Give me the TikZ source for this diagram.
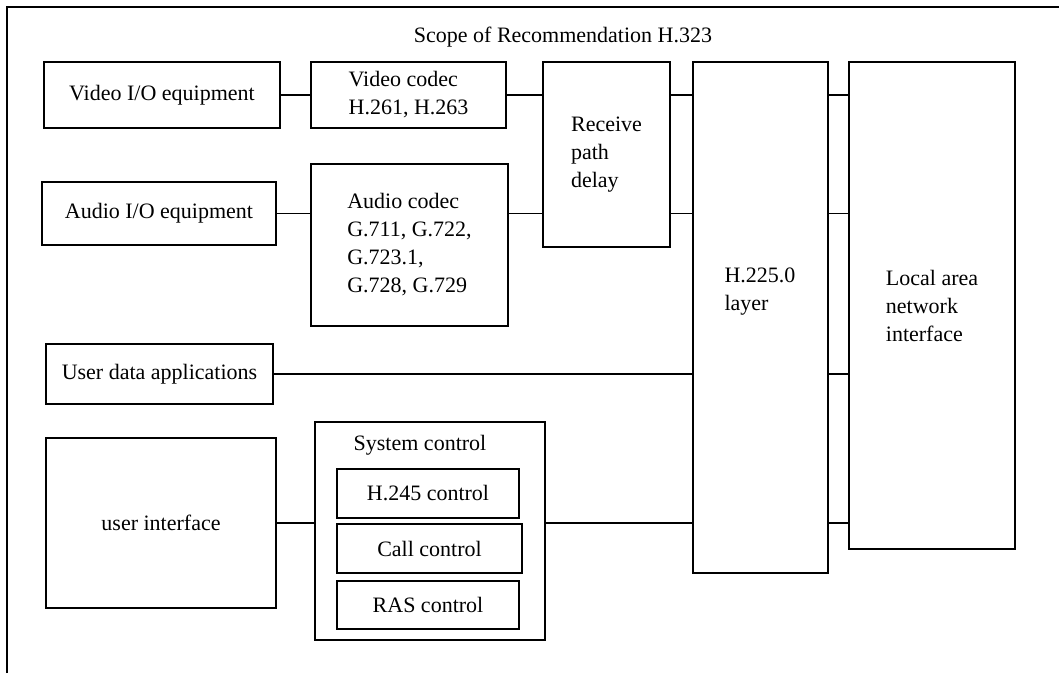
\documentclass[tikz,border=0pt]{standalone}
\usepackage{fontspec}
\setmainfont{Liberation Serif}
\usepackage{tikz}
\usetikzlibrary{positioning,calc}

\begin{document}
\begin{tikzpicture}[
  x=1pt,y=-1pt,
  font=\fontsize{22}{28}\selectfont,
  blk/.style={draw=black,line width=1.4pt,fill=white,align=left,
              inner sep=2pt},
  txt/.style={align=left,inner sep=0pt},
  link/.style={line width=1.4pt,draw=black}
]
\useasboundingbox (0,0) rectangle (1059,673);

% scope frame
\draw[line width=1.4pt] (7,673) |- (1059,7);
\node[txt] (scope) at (563,37) {Scope of Recommendation H.323};

\node[blk,minimum width=236,minimum height=66] (vio) at (162,95)
  {Video I/O equipment};
\node[blk,minimum width=195,minimum height=66] (vcodec) at (408.5,95)
  {Video codec\\H.261, H.263};
\node[blk,minimum width=234,minimum height=63] (aio) at (159,213.5)
  {Audio I/O equipment};
\node[blk,minimum width=197,minimum height=162] (acodec) at (409.5,245)
  {Audio codec\\G.711, G.722,\\G.723.1,\\G.728, G.729};
\node[blk,minimum width=127,minimum height=185] (rpd) at (606.5,154.5)
  {Receive\\path\\delay};

\node[blk,minimum width=135,minimum height=511] (h225) at (760.5,317.5) {};
\node[txt] (h225txt) at (760,292) {H.225.0\\layer};
\node[blk,minimum width=166,minimum height=487] (lan) at (932,305.5)
  {Local area\\network\\interface};

\node[blk,minimum width=227,minimum height=60] (udata) at (159.5,374)
  {User data applications};
\node[blk,minimum width=230,minimum height=170] (uif) at (161,523)
  {user interface};

\node[blk,minimum width=230,minimum height=218] (sysctl) at (430,531) {};
\node[txt] (sysctltxt) at (420,445) {System control};
\node[blk,minimum width=182,minimum height=49] (h245) at (428,493.5)
  {H.245 control};
\node[blk,minimum width=185,minimum height=49] (callc) at (429.5,548.5)
  {Call control};
\node[blk,minimum width=182,minimum height=48] (rasc) at (428,605)
  {RAS control};

\draw[link] (vio.east) -- (vcodec.west);
\draw[link] (vcodec.east) -- (vcodec.east -| rpd.west);
\draw[link] (aio.east) -- (aio.east -| acodec.west);
\draw[link] (aio.east -| acodec.east) -- (aio.east -| rpd.west);
\draw[link] (rpd.east |- vcodec) -- (h225.west |- vcodec);
\draw[link] (rpd.east |- aio) -- (h225.west |- aio);
\draw[link] (udata.east) -- (udata.east -| h225.west);
\draw[link] (uif.east) -- (uif.east -| sysctl.west);
\draw[link] (uif.east -| sysctl.east) -- (uif.east -| h225.west);

\draw[link] (h225.east |- vcodec) -- (lan.west |- vcodec);
\draw[link] (h225.east |- aio) -- (lan.west |- aio);
\draw[link] (h225.east |- udata) -- (lan.west |- udata);
\draw[link] (h225.east |- uif) -- (lan.west |- uif);
\end{tikzpicture}
\end{document}
